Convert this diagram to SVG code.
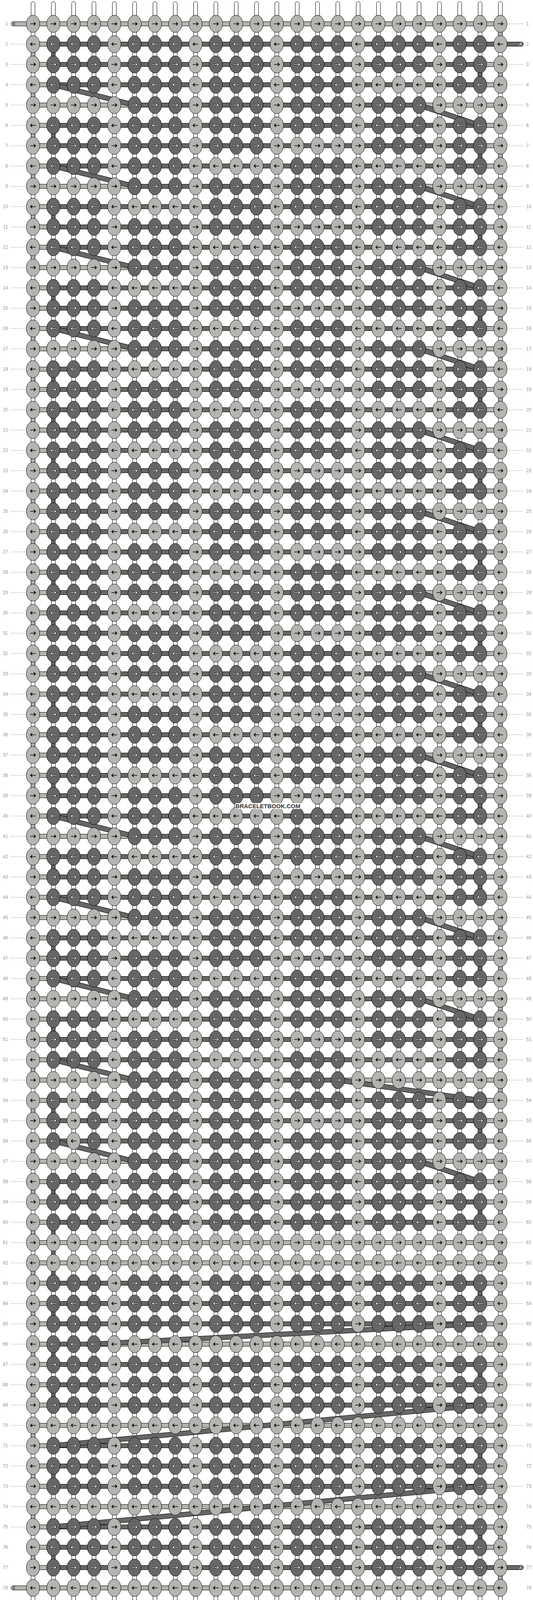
<svg xmlns="http://www.w3.org/2000/svg" width="1364" height="4128" viewBox="0 0 1364 4128">
<style>
.vs{fill:#fff;stroke:#000}
.cg,.kl{fill:#b4b4b0;stroke:#000}
.cd,.kd{fill:#666;stroke:#000}
.ak{fill:none;stroke:#000;stroke-width:1.7}
.ao{fill:none;stroke:#000;stroke-width:3.4}
.aw{fill:none;stroke:#fff;stroke-width:1.5}
.bo{fill:none;stroke:#000;stroke-width:13}
.bi{fill:none;stroke:#666;stroke-width:11}
.n{font-family:"Liberation Sans",Arial,sans-serif;font-size:12px;fill:#999}
.ln{fill:none;stroke:#bbb}
.lb{font-family:"Liberation Sans",Arial,sans-serif;font-size:11px;text-anchor:middle}
.wm{font-family:"Liberation Sans",Arial,sans-serif;font-size:15px;font-weight:bold;fill:#333;text-anchor:middle}
</style>
<defs>
<path id="pr" d="M-7 0H6M2-4L6.5 0L2 4"/>
<path id="pl" d="M7 0H-6M-2-4L-6.5 0L-2 4"/>
<ellipse id="e" rx="17" ry="22"/>
<g id="lr"><use href="#e" class="kl"/><use href="#pr" class="ak"/></g>
<g id="dr"><use href="#e" class="kd"/><use href="#pr" class="ao"/><use href="#pr" class="aw"/></g>
<g id="ll"><use href="#e" class="kl"/><use href="#pl" class="ak"/></g>
<g id="dl"><use href="#e" class="kd"/><use href="#pl" class="ao"/><use href="#pl" class="aw"/></g>
<g id="PR"><use href="#lr" x="84"/><use href="#dr" x="136"/><use href="#dr" x="188"/><use href="#dr" x="240"/></g>
<g id="QR"><use href="#lr" x="84"/><use href="#lr" x="136"/><use href="#lr" x="188"/><use href="#lr" x="240"/></g>
<g id="ER"><use href="#lr" x="84"/><use href="#dr" x="136"/><use href="#dr" x="188"/><use href="#lr" x="240"/></g>
<g id="SR"><use href="#lr" x="84"/><use href="#dr" x="136"/><use href="#lr" x="188"/><use href="#dr" x="240"/></g>
<g id="PL"><use href="#ll" x="84"/><use href="#dl" x="136"/><use href="#dl" x="188"/><use href="#dl" x="240"/></g>
<g id="QL"><use href="#ll" x="84"/><use href="#ll" x="136"/><use href="#ll" x="188"/><use href="#ll" x="240"/></g>
<g id="EL"><use href="#ll" x="84"/><use href="#dl" x="136"/><use href="#dl" x="188"/><use href="#ll" x="240"/></g>
<g id="SL"><use href="#ll" x="84"/><use href="#dl" x="136"/><use href="#ll" x="188"/><use href="#dl" x="240"/></g>
<g id="T2R"><use href="#PR"/><use href="#PR" x="208"/><use href="#PR" x="416"/><use href="#PR" x="624"/><use href="#PR" x="832"/><use href="#ER" x="1040"/></g>
<g id="T5R"><use href="#QR"/><use href="#PR" x="208"/><use href="#PR" x="416"/><use href="#PR" x="624"/><use href="#PR" x="832"/><use href="#QR" x="1040"/></g>
<g id="T7R"><use href="#PR"/><use href="#PR" x="208"/><use href="#PR" x="416"/><use href="#QR" x="624"/><use href="#PR" x="832"/><use href="#ER" x="1040"/></g>
<g id="T21R"><use href="#PR"/><use href="#PR" x="208"/><use href="#PR" x="416"/><use href="#PR" x="624"/><use href="#PR" x="832"/><use href="#QR" x="1040"/></g>
<g id="T53R"><use href="#QR"/><use href="#PR" x="208"/><use href="#PR" x="416"/><use href="#PR" x="624"/><use href="#QR" x="832"/><use href="#QR" x="1040"/></g>
<g id="T55R"><use href="#SR"/><use href="#PR" x="208"/><use href="#PR" x="416"/><use href="#QR" x="624"/><use href="#PR" x="832"/><use href="#ER" x="1040"/></g>
<g id="ALLR"><use href="#QR"/><use href="#QR" x="208"/><use href="#QR" x="416"/><use href="#QR" x="624"/><use href="#QR" x="832"/><use href="#QR" x="1040"/></g>
<g id="T2L"><use href="#PL"/><use href="#PL" x="208"/><use href="#PL" x="416"/><use href="#PL" x="624"/><use href="#PL" x="832"/><use href="#EL" x="1040"/></g>
<g id="T4L"><use href="#PL"/><use href="#PL" x="208"/><use href="#PL" x="416"/><use href="#PL" x="624"/><use href="#QL" x="832"/><use href="#EL" x="1040"/></g>
<g id="T8L"><use href="#PL"/><use href="#PL" x="208"/><use href="#QL" x="416"/><use href="#PL" x="624"/><use href="#QL" x="832"/><use href="#EL" x="1040"/></g>
<g id="T10L"><use href="#PL"/><use href="#QL" x="208"/><use href="#PL" x="416"/><use href="#PL" x="624"/><use href="#PL" x="832"/><use href="#EL" x="1040"/></g>
<g id="T54L"><use href="#SL"/><use href="#PL" x="208"/><use href="#PL" x="416"/><use href="#PL" x="624"/><use href="#PL" x="832"/><use href="#EL" x="1040"/></g>
<g id="T66L"><use href="#PL"/><use href="#QL" x="208"/><use href="#QL" x="416"/><use href="#QL" x="624"/><use href="#QL" x="832"/><use href="#QL" x="1040"/></g>
<g id="ALLL"><use href="#QL"/><use href="#QL" x="208"/><use href="#QL" x="416"/><use href="#QL" x="624"/><use href="#QL" x="832"/><use href="#QL" x="1040"/></g>
<rect id="v" x="-5" y="20" width="10" height="12"/>
<pattern id="pg" patternUnits="userSpaceOnUse" x="0" y="61" width="1364" height="104"><rect x="1275" y="20" width="10" height="12" class="cg"/><rect x="79" y="72" width="10" height="12" class="cg"/></pattern>
<pattern id="pd" patternUnits="userSpaceOnUse" x="0" y="165" width="1364" height="208"><rect x="1223" y="20" width="10" height="12" class="cd"/></pattern>
<pattern id="pb" patternUnits="userSpaceOnUse" x="0" y="35" width="1364" height="52"><rect x="84" y="20.5" width="1196" height="11" class="kl"/></pattern>
<rect id="af" class="kd" x="136" y="-5.5" width="1092" height="11"/>
<rect id="a5" class="kd" x="344" y="-5.5" width="728" height="11"/>
<rect id="a21" class="kd" x="136" y="-5.5" width="936" height="11"/>
<path id="bl" d="M136 0L344 52"/>
<path id="br" d="M1072 0L1228 52"/>
<g id="BL"><use href="#bl" class="bo"/><use href="#bl" class="bi"/></g>
<g id="BR"><use href="#br" class="bo"/><use href="#br" class="bi"/></g>
<path id="s1" d="M864 2765L1228 2817"/>
<path id="s2" d="M1228 3389L240 3441"/>
<path id="s3" d="M1228 3597L136 3701"/>
<path id="s4" d="M1228 3805L136 3909"/>
<g id="nums">
<text y="65">1</text><text y="117">2</text><text y="169">3</text><text y="221">4</text><text y="273">5</text><text y="325">6</text><text y="377">7</text><text y="429">8</text><text y="481">9</text><text y="533">10</text>
<text y="585">11</text><text y="637">12</text><text y="689">13</text><text y="741">14</text><text y="793">15</text><text y="845">16</text><text y="897">17</text><text y="949">18</text><text y="1001">19</text><text y="1053">20</text>
<text y="1105">21</text><text y="1157">22</text><text y="1209">23</text><text y="1261">24</text><text y="1313">25</text><text y="1365">26</text><text y="1417">27</text><text y="1469">28</text><text y="1521">29</text><text y="1573">30</text>
<text y="1625">31</text><text y="1677">32</text><text y="1729">33</text><text y="1781">34</text><text y="1833">35</text><text y="1885">36</text><text y="1937">37</text><text y="1989">38</text><text y="2041">39</text><text y="2093">40</text>
<text y="2145">41</text><text y="2197">42</text><text y="2249">43</text><text y="2301">44</text><text y="2353">45</text><text y="2405">46</text><text y="2457">47</text><text y="2509">48</text><text y="2561">49</text><text y="2613">50</text>
<text y="2665">51</text><text y="2717">52</text><text y="2769">53</text><text y="2821">54</text><text y="2873">55</text><text y="2925">56</text><text y="2977">57</text><text y="3029">58</text><text y="3081">59</text><text y="3133">60</text>
<text y="3185">61</text><text y="3237">62</text><text y="3289">63</text><text y="3341">64</text><text y="3393">65</text><text y="3445">66</text><text y="3497">67</text><text y="3549">68</text><text y="3601">69</text><text y="3653">70</text>
<text y="3705">71</text><text y="3757">72</text><text y="3809">73</text><text y="3861">74</text><text y="3913">75</text><text y="3965">76</text><text y="4017">77</text><text y="4069">78</text>
</g>
</defs>
<rect width="1364" height="4128" fill="#fff"/>
<g transform="translate(.5 0)">
<g id="strings" class="vs">
<rect x="79" y="4" width="10" height="4119" rx="5"/><rect x="131" y="4" width="10" height="4119" rx="5"/><rect x="183" y="4" width="10" height="4119" rx="5"/><rect x="235" y="4" width="10" height="4119" rx="5"/>
<rect x="287" y="4" width="10" height="4119" rx="5"/><rect x="339" y="4" width="10" height="4119" rx="5"/><rect x="391" y="4" width="10" height="4119" rx="5"/><rect x="443" y="4" width="10" height="4119" rx="5"/>
<rect x="495" y="4" width="10" height="4119" rx="5"/><rect x="547" y="4" width="10" height="4119" rx="5"/><rect x="599" y="4" width="10" height="4119" rx="5"/><rect x="651" y="4" width="10" height="4119" rx="5"/>
<rect x="703" y="4" width="10" height="4119" rx="5"/><rect x="755" y="4" width="10" height="4119" rx="5"/><rect x="807" y="4" width="10" height="4119" rx="5"/><rect x="859" y="4" width="10" height="4119" rx="5"/>
<rect x="911" y="4" width="10" height="4119" rx="5"/><rect x="963" y="4" width="10" height="4119" rx="5"/><rect x="1015" y="4" width="10" height="4119" rx="5"/><rect x="1067" y="4" width="10" height="4119" rx="5"/>
<rect x="1119" y="4" width="10" height="4119" rx="5"/><rect x="1171" y="4" width="10" height="4119" rx="5"/><rect x="1223" y="4" width="10" height="4119" rx="5"/><rect x="1275" y="4" width="10" height="4119" rx="5"/>
</g>
<g id="connectors">
<rect x="0" y="61" width="1364" height="3990" fill="url(#pg)"/>
<rect x="0" y="165" width="1364" height="3796" fill="url(#pd)"/>
<g class="cd">
<use href="#v" x="136" y="113"/><use href="#v" x="136" y="321"/><use href="#v" x="136" y="529"/><use href="#v" x="136" y="737"/><use href="#v" x="136" y="945"/><use href="#v" x="136" y="1049"/><use href="#v" x="136" y="1153"/>
<use href="#v" x="136" y="1257"/><use href="#v" x="136" y="1361"/><use href="#v" x="136" y="1465"/><use href="#v" x="136" y="1569"/><use href="#v" x="136" y="1673"/><use href="#v" x="136" y="1777"/><use href="#v" x="136" y="1881"/>
<use href="#v" x="136" y="1985"/><use href="#v" x="136" y="2193"/><use href="#v" x="136" y="2401"/><use href="#v" x="136" y="2609"/><use href="#v" x="136" y="2817"/><use href="#v" x="136" y="3025"/><use href="#v" x="136" y="3129"/>
<use href="#v" x="136" y="3181"/><use href="#v" x="136" y="3233"/><use href="#v" x="136" y="3337"/><use href="#v" x="136" y="3441"/><use href="#v" x="136" y="3545"/><use href="#v" x="136" y="3753"/><use href="#v" x="136" y="3961"/>
</g>
</g>
<g id="bars">
<rect x="0" y="87" width="1364" height="3952" fill="url(#pb)"/>
<rect x="28" y="55.5" width="1252" height="11" rx="5.5" class="kl"/>
<rect x="28" y="4059.5" width="1252" height="11" rx="5.5" class="kl"/>
<rect x="136" y="107.5" width="1203" height="11" rx="5.5" class="kd"/>
<rect x="136" y="4007.5" width="1203" height="11" rx="5.5" class="kd"/>
<use href="#af" y="165"/><use href="#af" y="217"/><use href="#af" y="321"/><use href="#af" y="373"/><use href="#af" y="425"/><use href="#af" y="529"/><use href="#af" y="581"/><use href="#af" y="633"/>
<use href="#af" y="737"/><use href="#af" y="789"/><use href="#af" y="841"/><use href="#af" y="945"/><use href="#af" y="997"/><use href="#af" y="1049"/><use href="#af" y="1153"/><use href="#af" y="1205"/>
<use href="#af" y="1257"/><use href="#af" y="1361"/><use href="#af" y="1413"/><use href="#af" y="1465"/><use href="#af" y="1569"/><use href="#af" y="1621"/><use href="#af" y="1673"/><use href="#af" y="1777"/>
<use href="#af" y="1829"/><use href="#af" y="1881"/><use href="#af" y="1985"/><use href="#af" y="2037"/><use href="#af" y="2089"/><use href="#af" y="2193"/><use href="#af" y="2245"/><use href="#af" y="2297"/>
<use href="#af" y="2401"/><use href="#af" y="2453"/><use href="#af" y="2505"/><use href="#af" y="2609"/><use href="#af" y="2661"/><use href="#af" y="2713"/><use href="#af" y="2817"/><use href="#af" y="2869"/>
<use href="#af" y="2921"/><use href="#af" y="3025"/><use href="#af" y="3077"/><use href="#af" y="3129"/><use href="#af" y="3285"/><use href="#af" y="3337"/><use href="#af" y="3389"/><use href="#af" y="3493"/>
<use href="#af" y="3545"/><use href="#af" y="3597"/><use href="#af" y="3701"/><use href="#af" y="3753"/><use href="#af" y="3805"/><use href="#af" y="3909"/><use href="#af" y="3961"/>
<use href="#a5" y="269"/><use href="#a5" y="477"/><use href="#a5" y="685"/><use href="#a5" y="893"/><use href="#a5" y="2141"/><use href="#a5" y="2349"/><use href="#a5" y="2557"/><use href="#a5" y="2973"/>
<use href="#a21" y="1101"/><use href="#a21" y="1309"/><use href="#a21" y="1517"/><use href="#a21" y="1725"/><use href="#a21" y="1933"/>
<rect class="kd" x="344" y="2759.5" width="520" height="11"/>
<rect class="kd" x="136" y="3435.5" width="104" height="11"/>
</g>
<g id="bands">
<use href="#BL" y="217"/><use href="#BL" y="425"/><use href="#BL" y="633"/><use href="#BL" y="841"/><use href="#BL" y="2089"/><use href="#BL" y="2297"/><use href="#BL" y="2505"/><use href="#BL" y="2713"/><use href="#BL" y="2921"/>
<use href="#BR" y="269"/><use href="#BR" y="477"/><use href="#BR" y="685"/><use href="#BR" y="893"/><use href="#BR" y="1101"/><use href="#BR" y="1309"/><use href="#BR" y="1517"/><use href="#BR" y="1725"/><use href="#BR" y="1933"/><use href="#BR" y="2141"/><use href="#BR" y="2349"/><use href="#BR" y="2557"/><use href="#BR" y="2973"/>
<use href="#s1" class="bo"/><use href="#s1" class="bi"/>
<use href="#s2" class="bo"/><use href="#s2" class="bi"/>
<use href="#s3" class="bo"/><use href="#s3" class="bi"/>
<use href="#s4" class="bo"/><use href="#s4" class="bi"/>
</g>
<g id="knots">
<use href="#ALLR" y="61"/><use href="#T2L" y="113"/><use href="#T2R" y="165"/><use href="#T4L" y="217"/><use href="#T5R" y="269"/><use href="#T2L" y="321"/>
<use href="#T7R" y="373"/><use href="#T8L" y="425"/><use href="#T5R" y="477"/><use href="#T10L" y="529"/><use href="#T7R" y="581"/><use href="#T8L" y="633"/>
<use href="#T5R" y="685"/><use href="#T10L" y="737"/><use href="#T7R" y="789"/><use href="#T8L" y="841"/><use href="#T5R" y="893"/><use href="#T10L" y="945"/>
<use href="#T7R" y="997"/><use href="#T8L" y="1049"/><use href="#T21R" y="1101"/><use href="#T10L" y="1153"/><use href="#T7R" y="1205"/><use href="#T8L" y="1257"/>
<use href="#T21R" y="1309"/><use href="#T10L" y="1361"/><use href="#T7R" y="1413"/><use href="#T8L" y="1465"/><use href="#T21R" y="1517"/><use href="#T10L" y="1569"/>
<use href="#T7R" y="1621"/><use href="#T8L" y="1673"/><use href="#T21R" y="1725"/><use href="#T10L" y="1777"/><use href="#T7R" y="1829"/><use href="#T8L" y="1881"/>
<use href="#T21R" y="1933"/><use href="#T10L" y="1985"/><use href="#T7R" y="2037"/><use href="#T8L" y="2089"/><use href="#T5R" y="2141"/><use href="#T10L" y="2193"/>
<use href="#T7R" y="2245"/><use href="#T8L" y="2297"/><use href="#T5R" y="2349"/><use href="#T10L" y="2401"/><use href="#T7R" y="2453"/><use href="#T8L" y="2505"/>
<use href="#T5R" y="2557"/><use href="#T10L" y="2609"/><use href="#T7R" y="2661"/><use href="#T8L" y="2713"/><use href="#T53R" y="2765"/><use href="#T54L" y="2817"/>
<use href="#T55R" y="2869"/><use href="#T54L" y="2921"/><use href="#T5R" y="2973"/><use href="#T2L" y="3025"/><use href="#T2R" y="3077"/><use href="#T2L" y="3129"/>
<use href="#ALLR" y="3181"/><use href="#ALLL" y="3233"/><use href="#T2R" y="3285"/><use href="#T2L" y="3337"/><use href="#T2R" y="3389"/><use href="#T66L" y="3441"/>
<use href="#T2R" y="3493"/><use href="#T2L" y="3545"/><use href="#T2R" y="3597"/><use href="#ALLL" y="3649"/><use href="#T2R" y="3701"/><use href="#T2L" y="3753"/>
<use href="#T2R" y="3805"/><use href="#ALLL" y="3857"/><use href="#T2R" y="3909"/><use href="#T2L" y="3961"/><use href="#T2R" y="4013"/><use href="#ALLL" y="4065"/>
</g>
<g id="labels">
<path class="ln" d="M26 113h42m-42 52h42m-42 52h42m-42 52h42m-42 52h42m-42 52h42m-42 52h42m-42 52h42m-42 52h42m-42 52h42m-42 52h42m-42 52h42m-42 52h42m-42 52h42m-42 52h42m-42 52h42m-42 52h42m-42 52h42m-42 52h42m-42 52h42m-42 52h42m-42 52h42m-42 52h42m-42 52h42m-42 52h42m-42 52h42m-42 52h42m-42 52h42m-42 52h42m-42 52h42m-42 52h42m-42 52h42m-42 52h42m-42 52h42m-42 52h42m-42 52h42m-42 52h42m-42 52h42m-42 52h42m-42 52h42m-42 52h42m-42 52h42m-42 52h42m-42 52h42m-42 52h42m-42 52h42m-42 52h42m-42 52h42m-42 52h42m-42 52h42m-42 52h42m-42 52h42m-42 52h42m-42 52h42m-42 52h42m-42 52h42m-42 52h42m-42 52h42m-42 52h42m-42 52h42m-42 52h42m-42 52h42m-42 52h42m-42 52h42m-42 52h42m-42 52h42m-42 52h42m-42 52h42m-42 52h42m-42 52h42m-42 52h42m-42 52h42m-42 52h42m-42 52h42"/>
<path class="ln" d="M1301 61h38m-38 104h38m-38 52h38m-38 52h38m-38 52h38m-38 52h38m-38 52h38m-38 52h38m-38 52h38m-38 52h38m-38 52h38m-38 52h38m-38 52h38m-38 52h38m-38 52h38m-38 52h38m-38 52h38m-38 52h38m-38 52h38m-38 52h38m-38 52h38m-38 52h38m-38 52h38m-38 52h38m-38 52h38m-38 52h38m-38 52h38m-38 52h38m-38 52h38m-38 52h38m-38 52h38m-38 52h38m-38 52h38m-38 52h38m-38 52h38m-38 52h38m-38 52h38m-38 52h38m-38 52h38m-38 52h38m-38 52h38m-38 52h38m-38 52h38m-38 52h38m-38 52h38m-38 52h38m-38 52h38m-38 52h38m-38 52h38m-38 52h38m-38 52h38m-38 52h38m-38 52h38m-38 52h38m-38 52h38m-38 52h38m-38 52h38m-38 52h38m-38 52h38m-38 52h38m-38 52h38m-38 52h38m-38 52h38m-38 52h38m-38 52h38m-38 52h38m-38 52h38m-38 52h38m-38 52h38m-38 52h38m-38 104h38"/>
<use href="#nums" x="20" class="n" text-anchor="end"/>
<use href="#nums" x="1346" class="n" text-anchor="start"/>
<text class="lb" x="35" y="65" fill="#333">B</text>
<text class="lb" x="35" y="4069" fill="#333">B</text>
<text class="lb" x="1332" y="117" fill="#ddd">A</text>
<text class="lb" x="1332" y="4017" fill="#ddd">A</text>
</g>
<g id="watermark">
<rect x="602" y="2056" width="166" height="15" fill="#fff"/>
<text class="wm" x="685" y="2069">BRACELETBOOK.COM</text>
</g>
</g>
</svg>
